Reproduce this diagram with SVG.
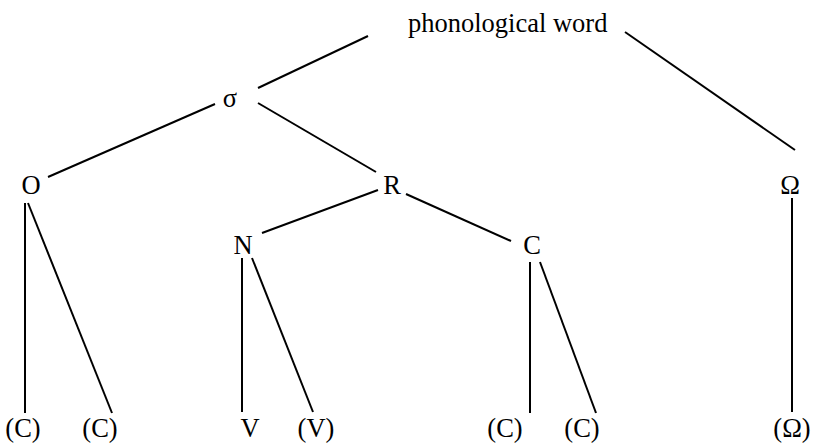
<svg xmlns="http://www.w3.org/2000/svg" width="838" height="443" viewBox="0 0 838 443">
<style>
text{font-family:"Liberation Serif","Times New Roman",serif;font-size:26.5px;fill:#000}
line{stroke:#000;stroke-width:2}
</style>
<rect width="838" height="443" fill="#fff"/>
<g id="connectors">
<line x1="368" y1="36" x2="258" y2="88"/>
<line x1="625" y1="32" x2="795" y2="150"/>
<line x1="215" y1="104" x2="48" y2="177"/>
<line x1="258" y1="103" x2="376" y2="172"/>
<line x1="25" y1="203" x2="25" y2="413"/>
<line x1="28" y1="203" x2="112" y2="413"/>
<line x1="378" y1="190" x2="262" y2="233"/>
<line x1="406" y1="194" x2="511" y2="241"/>
<line x1="242" y1="258" x2="242" y2="412"/>
<line x1="252" y1="258" x2="313" y2="412"/>
<line x1="530" y1="262" x2="530" y2="413"/>
<line x1="540" y1="262" x2="596" y2="413"/>
<line x1="792" y1="198" x2="792" y2="412"/>
</g>
<g id="pw"><text x="408" y="32">phonological word</text></g>
<g id="sigma"><text x="230" y="107" text-anchor="middle">σ</text></g>
<g id="O"><text x="31" y="194" text-anchor="middle">O</text></g>
<g id="R"><text x="392" y="194" text-anchor="middle">R</text></g>
<g id="Omega"><text x="790" y="194" text-anchor="middle">Ω</text></g>
<g id="N"><text x="243" y="254" text-anchor="middle">N</text></g>
<g id="C"><text x="532" y="254" text-anchor="middle">C</text></g>
<g id="c1"><text x="23" y="437" text-anchor="middle">(C)</text></g>
<g id="c2"><text x="100" y="437" text-anchor="middle">(C)</text></g>
<g id="v1"><text x="250" y="437" text-anchor="middle">V</text></g>
<g id="v2"><text x="316" y="437" text-anchor="middle">(V)</text></g>
<g id="c3"><text x="505" y="437" text-anchor="middle">(C)</text></g>
<g id="c4"><text x="582" y="437" text-anchor="middle">(C)</text></g>
<g id="om2"><text x="792" y="437" text-anchor="middle">(Ω)</text></g>
</svg>
